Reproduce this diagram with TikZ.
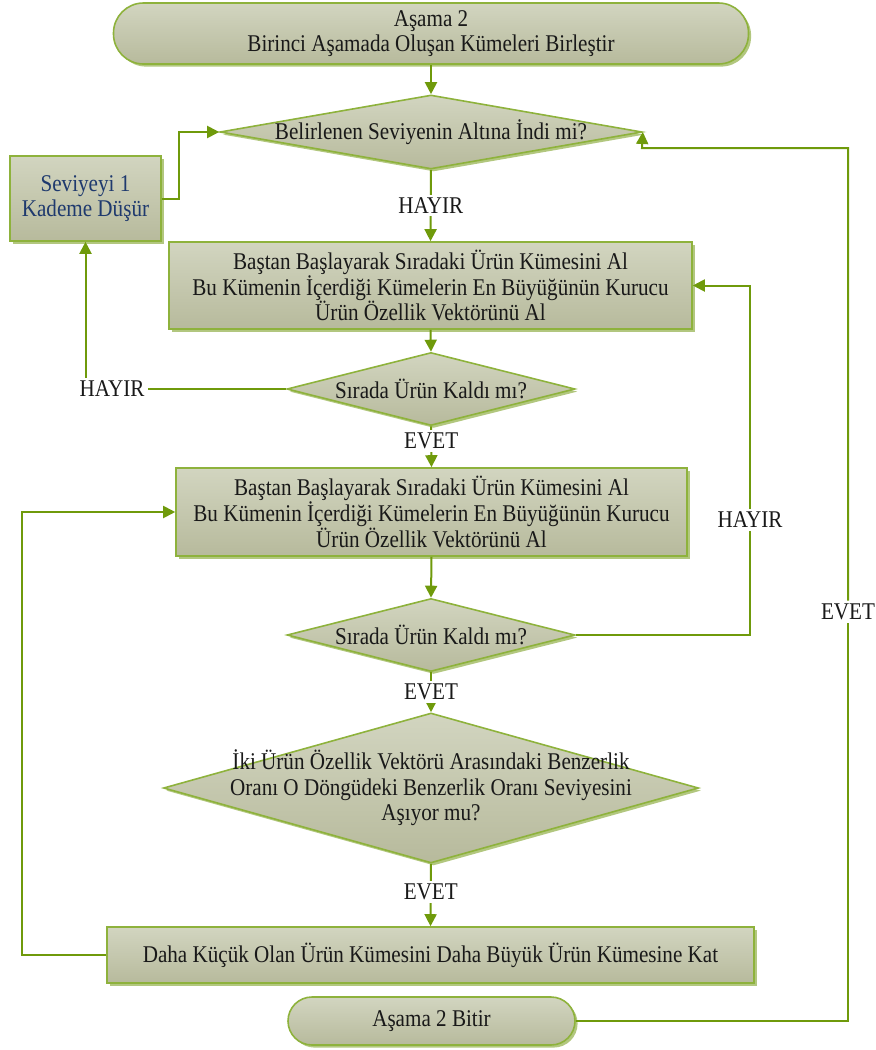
\documentclass[tikz,border=0pt]{standalone}
\usepackage{fontspec}
\setmainfont{Liberation Serif}[FakeStretch=0.88]
\usetikzlibrary{shapes.geometric,arrows.meta,shadows}

\definecolor{linegreen}{HTML}{6F9A0B}
\definecolor{edgegreen}{HTML}{8EB23C}
\definecolor{filltop}{HTML}{D2D5C0}
\definecolor{fillbot}{HTML}{B7BA9C}
\definecolor{shadowgreen}{HTML}{B2C77F}
\definecolor{navytext}{HTML}{1F3A6E}

\tikzset{
  txt/.style={font=\fontsize{12}{12.8}\selectfont, align=center, text=black!90},
  base/.style={txt, draw=edgegreen, line width=0.8pt, top color=filltop, bottom color=fillbot,
    drop shadow={shadow xshift=1.3pt, shadow yshift=-1.3pt, fill=shadowgreen, opacity=1}, inner sep=2pt},
  terminal/.style={base, rectangle, rounded corners=#1},
  process/.style={base, rectangle},
  decision/.style={base, diamond, inner sep=0pt},
  link/.style={draw=linegreen, line width=1pt},
  flow/.style={link, -{Triangle[length=6pt,width=6pt]}},
  tag/.style={txt, fill=white, inner sep=1.5pt}
}

\begin{document}
\begin{tikzpicture}[x=0.5pt,y=-0.5pt]
  \useasboundingbox (0,0) rectangle (875,1050);

  % nodes
  \node[terminal=15pt, minimum width=317.5pt, minimum height=30.5pt] (start) at (431,33.5)
    {Aşama 2\\Birinci Aşamada Oluşan Kümeleri Birleştir};
  \node[decision, minimum width=211pt, minimum height=37pt,
    label={[txt]center:Belirlenen Seviyenin Altına İndi mi?}] (limit) at (431,132) {};
  \node[process, minimum width=75.5pt, minimum height=42.5pt, text=navytext] (lower) at (85.5,198.5)
    {Seviyeyi 1\\Kademe Düşür};
  \node[process, minimum width=261.5pt, minimum height=43.5pt] (pickA) at (430.5,285.5)
    {Baştan Başlayarak Sıradaki Ürün Kümesini Al\\Bu Kümenin İçerdiği Kümelerin En Büyüğünün Kurucu\\Ürün Özellik Vektörünü Al};
  \node[decision, minimum width=144pt, minimum height=36.5pt,
    label={[txt]center:Sırada Ürün Kaldı mı?}] (leftA) at (431,389) {};
  \node[process, minimum width=255.5pt, minimum height=44pt] (pickB) at (431.5,512)
    {Baştan Başlayarak Sıradaki Ürün Kümesini Al\\Bu Kümenin İçerdiği Kümelerin En Büyüğünün Kurucu\\Ürün Özellik Vektörünü Al};
  \node[decision, minimum width=144pt, minimum height=36.5pt,
    label={[txt]center:Sırada Ürün Kaldı mı?}] (leftB) at (431,635) {};
  \node[decision, minimum width=267.5pt, minimum height=75pt,
    label={[txt]center:İki Ürün Özellik Vektörü Arasındaki Benzerlik\\Oranı O Döngüdeki Benzerlik Oranı Seviyesini\\Aşıyor mu?}] (similar) at (431,788) {};
  \node[process, minimum width=323.5pt, minimum height=28pt] (merge) at (430.5,955)
    {Daha Küçük Olan Ürün Kümesini Daha Büyük Ürün Kümesine Kat};
  \node[terminal=12pt, minimum width=143.5pt, minimum height=24pt] (stop) at (431.5,1021)
    {Aşama 2 Bitir};

  % branch labels
  \node[tag] (noA) at (112,389) {HAYIR};
  \node[tag] (noB) at (750,520) {HAYIR};
  \node[tag] (yesEnd) at (848,612) {EVET};
  \coordinate (back) at (642,148);

  % connectors
  \draw[flow] (start.south) -- (limit.north);
  \draw[flow] (lower.east) -- ++(17,0) |- (limit.west);
  \draw[flow] (limit.south) -- (pickA.north) node[tag, midway] {HAYIR};
  \draw[flow] (pickA.south) -- (leftA.north);
  \draw[link] (leftA.west) -- (noA.east);
  \draw[flow] (noA.north -| lower.south) -- (lower.south);
  \draw[flow] (leftA.south) -- (pickB.north) node[tag, pos=0.35] {EVET};
  \draw[flow] (pickB.south) -- (leftB.north);
  \draw[link] (leftB.east) -| (noB.south);
  \draw[flow] (noB.north) |- (pickA.east);
  \draw[flow] (leftB.south) -- (similar.north) node[tag, midway] {EVET};
  \draw[flow] (similar.south) -- (merge.north) node[tag, pos=0.45] {EVET};
  \draw[flow] (merge.west) -- ++(-84,0) |- (pickB.west);
  \draw[link] (stop.east) -| (yesEnd.south);
  \draw[flow] (yesEnd.north) |- (back) -- (limit.east);
\end{tikzpicture}
\end{document}
